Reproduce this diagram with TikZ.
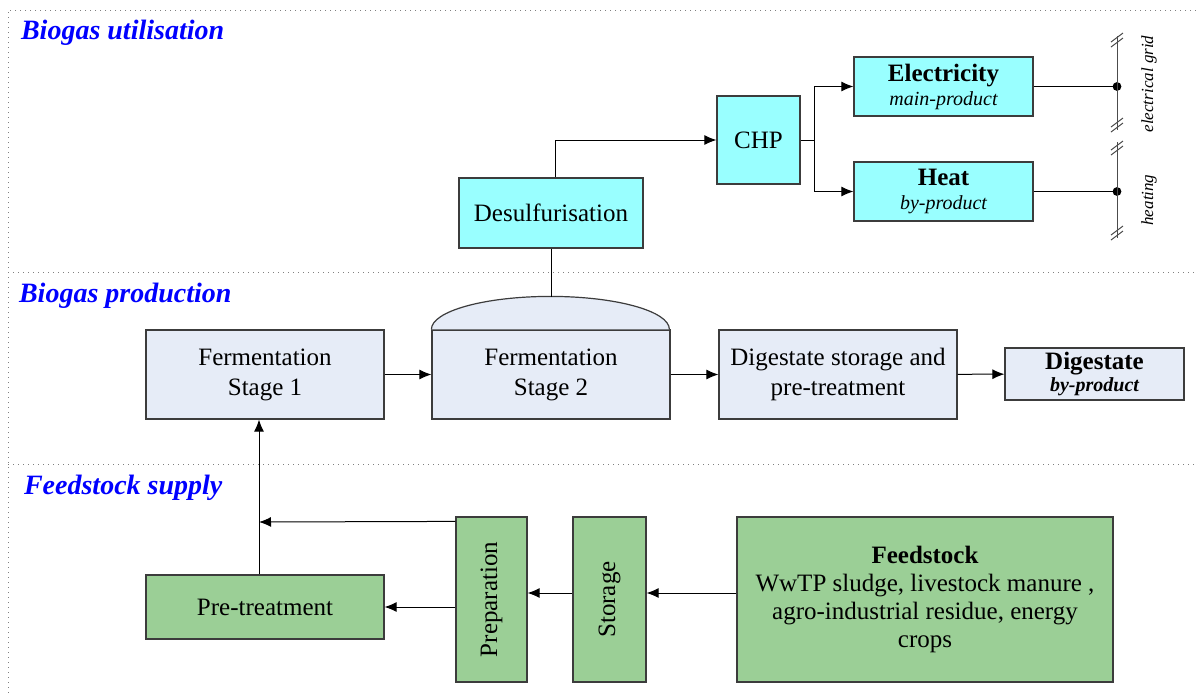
\documentclass[tikz,border=0pt]{standalone}
\usepackage{fontspec}
\setmainfont{Liberation Serif}
\usetikzlibrary{arrows.meta, positioning, calc}

\definecolor{cyanbox}{RGB}{153,255,255}
\definecolor{prodbox}{RGB}{230,236,247}
\definecolor{feedbox}{RGB}{155,207,150}
\definecolor{rim}{RGB}{60,60,60}

\begin{document}
\begin{tikzpicture}[x=0.5pt, y=-0.5pt,
    box/.style={draw=rim, line width=0.6pt, inner sep=2pt, align=center,
      font=\fontsize{12.5}{15}\selectfont},
    util/.style={box, fill=cyanbox},
    prod/.style={box, fill=prodbox, minimum width=119pt, minimum height=44.5pt},
    feed/.style={box, fill=feedbox, minimum height=82.5pt},
    arr/.style={-{Latex[length=6pt, width=5pt]}, line width=0.5pt},
    ln/.style={line width=0.5pt},
    zone/.style={draw=gray, dotted, line width=0.5pt},
    zlabel/.style={anchor=west, text=blue, font=\fontsize{14}{16}\selectfont\bfseries\itshape},
    grid/.style={draw=black!70, line width=0.5pt},
    gtext/.style={rotate=90, font=\fontsize{8.5}{10}\selectfont\itshape}]
  \useasboundingbox (0,0) rectangle (1196,693);

  % zones
  \draw[zone] (1196,10) -- (8,10) -- (8,693);
  \draw[zone] (8,272) -- (1196,272);
  \draw[zone] (8,464) -- (1196,464);
  \node[zlabel] (zu) at (14,33) {Biogas utilisation};
  \node[zlabel] (zp) at (12,296) {Biogas production};
  \node[zlabel] (zf) at (17,488) {Feedstock supply};

  % utilisation
  \node[util, minimum width=92pt, minimum height=35pt] (desul) at (551,213) {Desulfurisation};
  \node[util, minimum width=41.5pt, minimum height=44pt] (chp) at (758.5,140) {CHP};
  \node[util, minimum width=89.5pt, minimum height=29.5pt] (elec) at (943.5,86.5)
    {\textbf{Electricity}\\[-3pt]{\fontsize{10}{11}\selectfont\itshape main-product}};
  \node[util, minimum width=89.5pt, minimum height=29.5pt] (heat) at (943.5,191.5)
    {\textbf{Heat}\\[-3pt]{\fontsize{10}{11}\selectfont\itshape by-product}};
  \coordinate (br) at (814,140);
  \coordinate (gdot1) at (1117,86.5);
  \coordinate (gdot2) at (1117,191.5);

  \draw[arr] ([xshift=2pt]desul.north) |- (chp.west);
  \draw[ln] (chp.east) -- (br);
  \draw[arr] (br) |- (elec.west);
  \draw[arr] (br) |- (heat.west);
  \draw[ln] (elec.east) -- (gdot1);
  \draw[ln] (heat.east) -- (gdot2);
  \fill (gdot1) circle (2.2pt);
  \fill (gdot2) circle (2.2pt);

  % grid ends
  \draw[grid] (1117,36) -- (1117,130);
  \draw[grid] (1117,142) -- (1117,238);
  \foreach \yy in {40,125,148,233}{
    \draw[grid] (1111,\yy+2) -- (1123,\yy-7);
    \draw[grid] (1111,\yy+7) -- (1123,\yy-2);
  }
  \node[gtext] (egrid) at (1149,84) {electrical grid};
  \node[gtext] (hgrid) at (1149,200) {heating};

  % production
  \node[prod] (fs1) at (265,374.5) {Fermentation\\Stage 1};
  \node[prod] (fs2) at (551,374.5) {Fermentation\\Stage 2};
  \node[prod] (dig) at (838,374.5) {Digestate storage and\\pre-treatment};
  \node[box, fill=prodbox, minimum width=89.5pt, minimum height=26pt] (digp) at (1094.5,374)
    {\textbf{Digestate}\\[-4pt]{\fontsize{10}{11}\selectfont\bfseries\itshape by-product}};
  \draw[draw=rim, line width=0.6pt, fill=prodbox] (fs2.north west)
    arc[start angle=180, end angle=0, x radius=59.5pt, y radius=16.5pt];
  \coordinate (dtop) at (551,297);

  \draw[ln] (desul.south) -- (dtop);
  \draw[arr] (fs1) -- (fs2);
  \draw[arr] (fs2) -- (dig);
  \draw[arr] (dig) -- (digp);

  % feedstock
  \node[feed, minimum width=119pt, minimum height=32pt] (pre) at (265,607) {Pre-treatment};
  \node[feed, minimum width=35.5pt] (prep) at (491.5,599.5) {};
  \node[rotate=90, font=\fontsize{12.5}{15}\selectfont] (preptxt) at (prep) {Preparation};
  \node[feed, minimum width=36.5pt] (stor) at (609.5,599.5) {};
  \node[rotate=90, font=\fontsize{12.5}{15}\selectfont] (stortxt) at (stor) {Storage};
  \node[feed, minimum width=188pt, font=\fontsize{12.5}{14}\selectfont] (feed) at (925,599.5)
    {\textbf{Feedstock}\\WwTP sludge, livestock manure ,\\agro-industrial residue, energy\\crops};
  \coordinate (jn) at (259,522);

  \draw[arr] ([yshift=3.25pt]feed.west) -- ([yshift=3.25pt]stor.east);
  \draw[arr] ([yshift=3.25pt]stor.west) -- ([yshift=3.25pt]prep.east);
  \draw[arr] (prep.west |- pre.east) -- (pre.east);
  \draw[arr] ([yshift=-2.5pt]prep.north west) -- (jn);
  \draw[arr] ([xshift=-3pt]pre.north) -- ([xshift=-3pt]fs1.south);
\end{tikzpicture}
\end{document}
